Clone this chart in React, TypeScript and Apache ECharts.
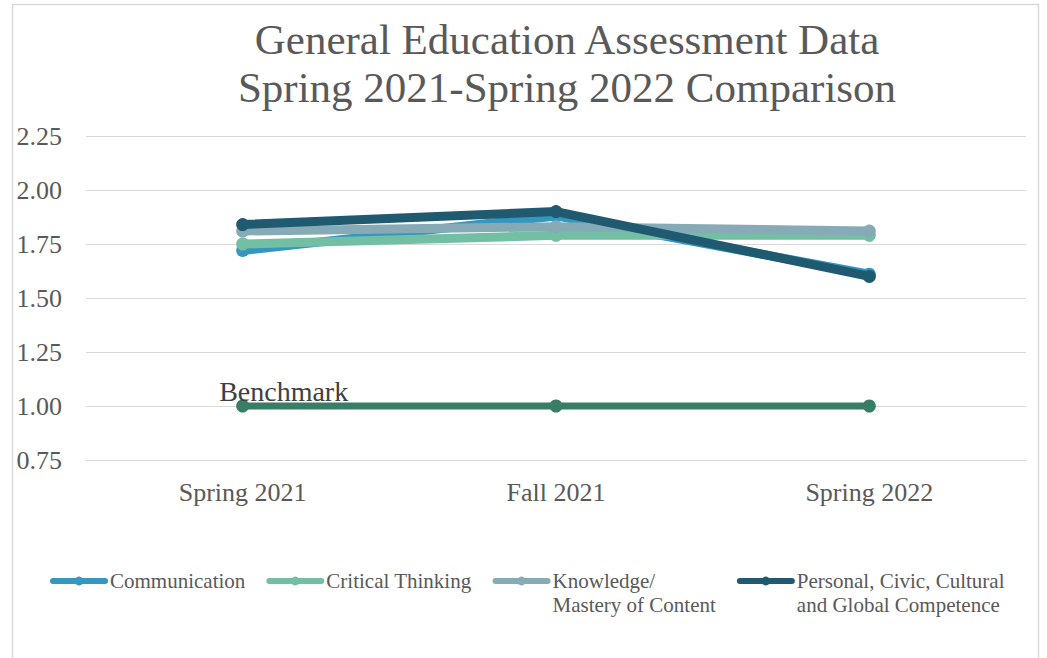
import React, { useEffect, useRef } from "react";
import * as echarts from "echarts";

const categories = ["Spring 2021", "Fall 2021", "Spring 2022"];
const communication = [1.72, 1.88, 1.61];
const criticalThinking = [1.75, 1.79, 1.79];
const knowledge = [1.81, 1.83, 1.81];
const personal = [1.84, 1.9, 1.6];
const benchmark = [1.0, 1.0, 1.0];
const seriesNames = [
  "Communication",
  "Critical Thinking",
  "Knowledge/\nMastery of Content",
  "Personal, Civic, Cultural\nand Global Competence",
];
const yMin = 0.75;
const yMax = 2.25;
const yStep = 0.25;

const FONT = '"Liberation Serif", "Times New Roman", serif';
const TEXT = "#595959";

export default function App() {
  const ref = useRef<HTMLDivElement>(null);
  useEffect(() => {
    if (!ref.current) return;
    const chart = echarts.init(ref.current, null, { renderer: "svg" });
    const colors = ["#3596bf", "#72bfa4", "#86abb6", "#1f5a70"];
    const datas = [communication, criticalThinking, knowledge, personal];
    const lineSeries = datas.map((d, i) => ({
      name: seriesNames[i],
      type: "line",
      data: d,
      symbol: "circle",
      symbolSize: 13,
      lineStyle: { width: 9, color: colors[i], cap: "round", join: "round" },
      itemStyle: { color: colors[i] },
      z: 3 + i,
    }));
    chart.setOption({
      animation: false,
      textStyle: { fontFamily: FONT },
      title: {
        text: "General Education Assessment Data\nSpring 2021-Spring 2022 Comparison",
        left: 562,
        top: 10,
        textAlign: "center",
        textStyle: {
          fontFamily: FONT,
          fontSize: 43,
          lineHeight: 48,
          fontWeight: "normal",
          color: TEXT,
        },
      },
      graphic: [
        {
          type: "rect",
          shape: { x: 12.5, y: 4.5, width: 1026, height: 700 },
          style: { fill: "none", stroke: "#d9d9d9", lineWidth: 1.5 },
          silent: true,
        },
      ],
      grid: { left: 86, right: 21, top: 136, bottom: 198 },
      legend: {
        left: 50,
        top: 545,
        padding: 0,
        itemWidth: 52,
        itemHeight: 11,
        itemGap: 21,
        lineStyle: { width: 6, cap: "round" },
        textStyle: { fontFamily: FONT, fontSize: 21, lineHeight: 24, color: TEXT },
        formatter: (name: string) => (name.indexOf("\n") >= 0 ? " \n" + name : name),
        data: seriesNames,
      },
      xAxis: {
        type: "category",
        data: categories,
        boundaryGap: true,
        axisLine: { lineStyle: { color: "#d9d9d9", width: 1 } },
        axisTick: { show: false },
        axisLabel: { fontFamily: FONT, fontSize: 26, color: TEXT, margin: 19 },
      },
      yAxis: {
        type: "value",
        min: yMin,
        max: yMax,
        interval: yStep,
        axisLine: { show: false },
        axisTick: { show: false },
        splitLine: { lineStyle: { color: "#d9d9d9", width: 1 } },
        axisLabel: {
          fontFamily: FONT,
          fontSize: 26,
          color: TEXT,
          margin: 24,
          formatter: (v: number) => v.toFixed(2),
        },
      },
      series: [
        {
          name: "Benchmark",
          type: "line",
          data: benchmark.map((v, i) =>
            i === 0
              ? {
                  value: v,
                  label: {
                    show: true,
                    formatter: "Benchmark",
                    position: "top",
                    distance: 5,
                    offset: [41, 11],
                    fontFamily: FONT,
                    fontSize: 28,
                    color: "#404040",
                  },
                }
              : v
          ),
          symbol: "circle",
          symbolSize: 13,
          lineStyle: { width: 7, color: "#3a7d66" },
          itemStyle: { color: "#3a7d66" },
          z: 2,
        },
        ...lineSeries,
      ],
    });
    return () => chart.dispose();
  }, []);
  return (
    <div
      ref={ref}
      style={{ position: "fixed", left: 0, top: 0, width: 1047, height: 658, background: "#fff" }}
    />
  );
}
